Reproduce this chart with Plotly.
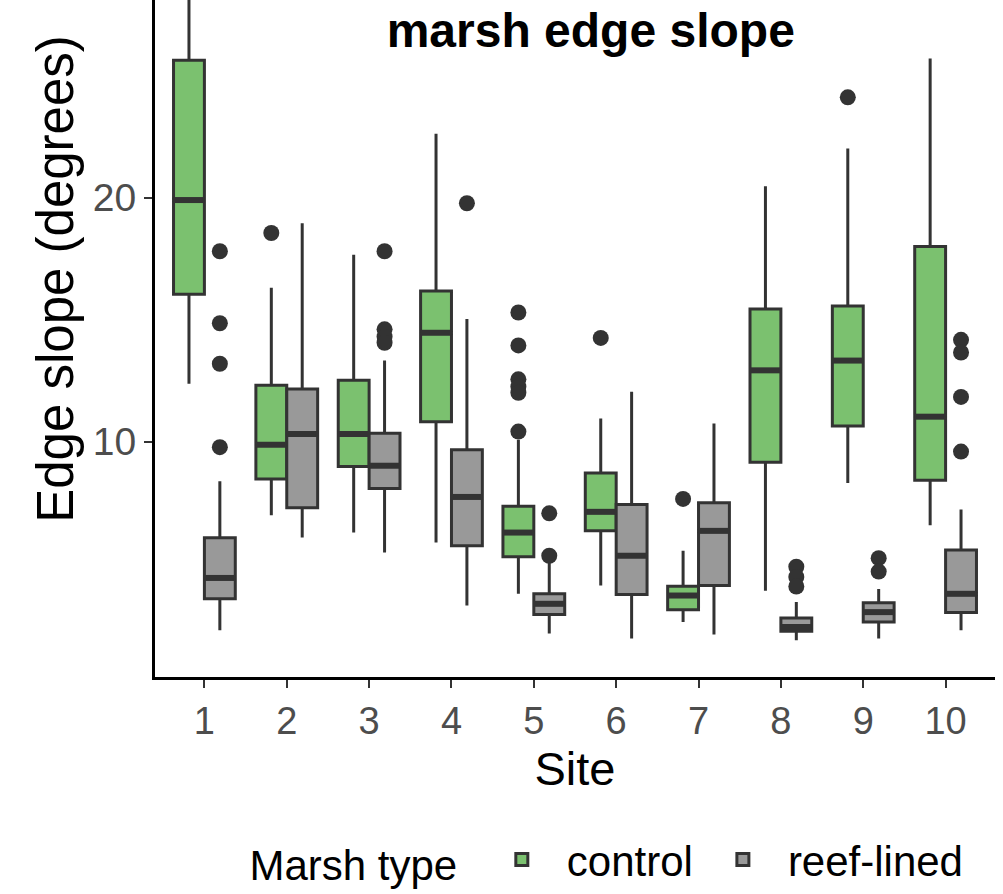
import plotly.graph_objects as go

sites = [1, 2, 3, 4, 5, 6, 7, 8, 9, 10]

# control marsh (green)
ctrl_low = [12.37, 6.98, 6.27, 5.86, 3.76, 4.10, 2.60, 3.89, 8.30, 6.57]
ctrl_q1 = [16.04, 8.47, 8.98, 10.81, 5.28, 6.34, 3.11, 9.15, 10.64, 8.41]
ctrl_med = [19.90, 9.87, 10.31, 14.46, 6.27, 7.12, 3.69, 12.92, 13.32, 11.02]
ctrl_q3 = [25.63, 12.31, 12.51, 16.17, 7.35, 8.71, 4.07, 15.43, 15.56, 18.00]
ctrl_high = [29.5, 16.31, 17.66, 22.62, 10.07, 10.95, 5.52, 20.47, 22.01, 25.70]
ctrl_out_site = [2, 5, 5, 5, 5, 5, 5, 6, 7, 9]
ctrl_out_val = [18.55, 15.29, 13.94, 12.55, 12.25, 12.0, 10.41, 14.25, 7.65, 24.11]

# reef-lined marsh (grey)
reef_low = [2.27, 6.07, 5.45, 3.28, 2.13, 1.93, 2.09, 1.86, 1.93, 2.27]
reef_q1 = [3.56, 7.29, 8.08, 5.73, 2.91, 3.73, 4.10, 2.23, 2.60, 2.99]
reef_med = [4.41, 10.31, 9.01, 7.73, 3.35, 5.32, 6.34, 2.40, 3.01, 3.76]
reef_q3 = [6.06, 12.15, 10.34, 9.66, 3.76, 7.42, 7.49, 2.77, 3.39, 5.56]
reef_high = [8.37, 18.95, 13.32, 15.02, 5.05, 12.04, 10.74, 3.42, 3.96, 7.22]
reef_out_site = [1, 1, 1, 1, 3, 3, 3, 3, 4, 5, 5, 8, 8, 8, 9, 9, 10, 10, 10, 10]
reef_out_val = [17.80, 14.85, 13.19, 9.77, 17.80, 14.6, 14.3, 14.05, 19.77, 7.06, 5.32,
                4.87, 4.45, 4.06, 5.22, 4.67, 14.17, 13.65, 11.83, 9.59]

x_tick_labels = [str(s) for s in sites]
y_ticks = [10, 20]

GREEN = "#7bc16f"
GREY = "#999999"
EDGE = "#333333"
FONT = "Liberation Sans, Arial, sans-serif"
DODGE = 0.1875
HALF = 0.1875

fig = go.Figure()

groups = [
    ("control", GREEN, -DODGE, ctrl_low, ctrl_q1, ctrl_med, ctrl_q3, ctrl_high, ctrl_out_site, ctrl_out_val),
    ("reef-lined", GREY, DODGE, reef_low, reef_q1, reef_med, reef_q3, reef_high, reef_out_site, reef_out_val),
]

for name, col, off, lo, q1, med, q3, hi, osite, oval in groups:
    fig.add_trace(go.Box(
        name=name, x=sites, q1=q1, median=med, q3=q3, lowerfence=lo, upperfence=hi,
        fillcolor=col, line=dict(color=EDGE, width=3), whiskerwidth=0,
        boxpoints=False, offsetgroup=name, legendgroup=name, hoverinfo="skip",
    ))

for name, col, off, lo, q1, med, q3, hi, osite, oval in groups:
    mx, my = [], []
    for s, m in zip(sites, med):
        mx += [s + off - HALF, s + off + HALF, None]
        my += [m, m, None]
    fig.add_trace(go.Scatter(x=mx, y=my, mode="lines", line=dict(color=EDGE, width=6),
                             showlegend=False, hoverinfo="skip"))
    fig.add_trace(go.Scatter(x=[s + off for s in osite], y=oval, mode="markers",
                             marker=dict(color=EDGE, size=16), showlegend=False, hoverinfo="skip"))

fig.update_layout(
    width=1003, height=894,
    paper_bgcolor="white", plot_bgcolor="white",
    margin=dict(l=155, r=8, t=0, b=212),
    boxmode="group", boxgap=0.25, boxgroupgap=0,
    font=dict(family=FONT, color="black"),
    title=dict(text="<b>marsh edge slope</b>", x=0.589, xanchor="center",
               y=1 - 30 / 894, yanchor="middle", font=dict(size=48, color="black", family=FONT)),
    showlegend=True,
    legend=dict(orientation="h", x=0.11, xanchor="left", y=-0.27, yanchor="middle",
                title=dict(text="Marsh type ", font=dict(size=42)), font=dict(size=42),
                itemwidth=80, bgcolor="rgba(0,0,0,0)"),
    annotations=[dict(text="Edge slope (degrees)", textangle=-90, xref="paper", yref="paper",
                      x=-0.118, y=(682 - 281) / 682, xanchor="center", yanchor="middle",
                      showarrow=False, font=dict(size=51, color="black", family=FONT))],
)

fig.update_xaxes(
    range=[0.4, 10.6], tickvals=sites, ticktext=x_tick_labels,
    showline=True, linecolor="black", linewidth=3, mirror=False,
    ticks="outside", ticklen=8, tickwidth=2, tickcolor=EDGE,
    tickfont=dict(size=38, color="#4d4d4d"), showgrid=False, zeroline=False,
    title=dict(text="Site", font=dict(size=47, color="black"), standoff=12),
)
fig.update_yaxes(
    range=[0.35, 28.1], tickvals=y_ticks,
    showline=True, linecolor="black", linewidth=3, mirror=False,
    ticks="outside", ticklen=8, tickwidth=2, tickcolor=EDGE,
    tickfont=dict(size=39, color="#4d4d4d"), showgrid=False, zeroline=False,
)

fig.write_html("out.html")
